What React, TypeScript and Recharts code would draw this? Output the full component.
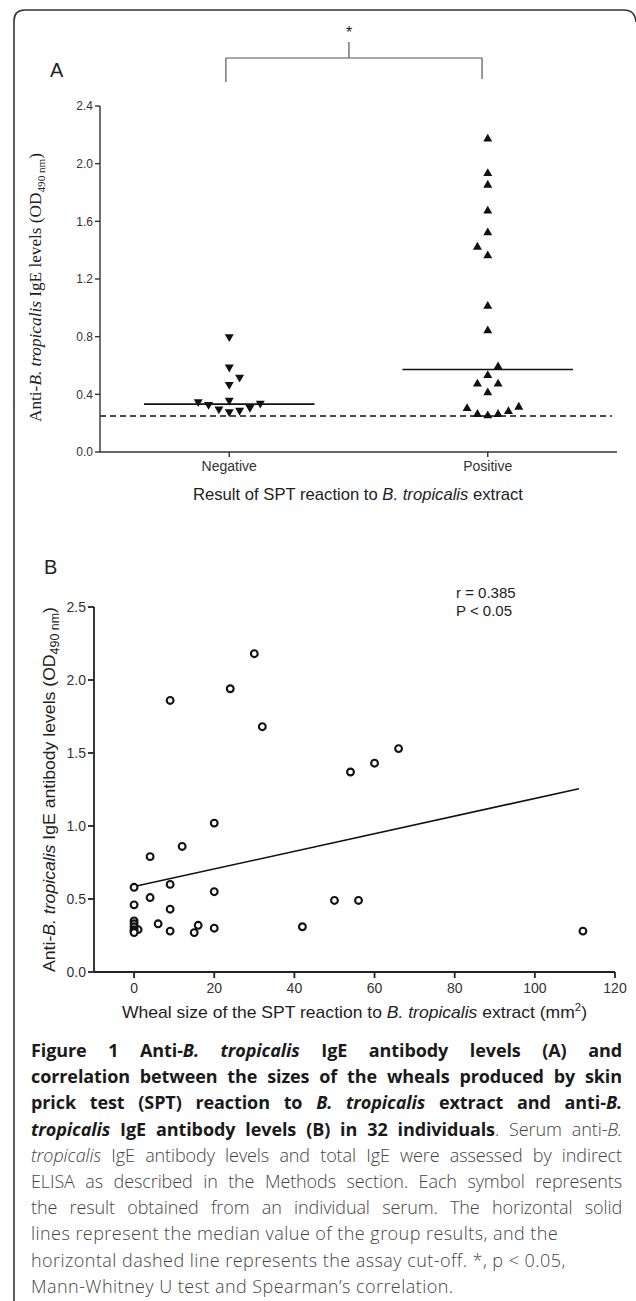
import React from 'react';
import { ScatterChart, Scatter, XAxis, YAxis, ReferenceLine } from 'recharts';

// ---------- Panel A data ----------
const groups = ['Negative', 'Positive'];
const groupCenters = [0.5, 1.5];
const negativeValues = [0.79, 0.58, 0.51, 0.46, 0.34, 0.32, 0.29, 0.35, 0.27, 0.28, 0.3, 0.33];
const negativeSlots = [0, 0, 1, 0, -3, -2, -1, 0, 0, 1, 2, 3];
const positiveValues = [2.18, 1.94, 1.86, 1.68, 1.53, 1.43, 1.37, 1.02, 0.85, 0.6, 0.54, 0.48, 0.48, 0.42, 0.31, 0.27, 0.26, 0.27, 0.29, 0.32];
const positiveSlots = [0, 0, 0, 0, 0, -1, 0, 0, 0, 1, 0, -1, 1, 0, -2, -1, 0, 1, 2, 3];
const medians = [0.332, 0.572];
const cutoff = 0.25;
const yTicksA = [0, 0.4, 0.8, 1.2, 1.6, 2.0, 2.4];

// ---------- Panel B data ----------
const whealSizes = [30, 24, 9, 32, 20, 12, 4, 9, 20, 4, 9, 6, 1, 9, 15, 16, 20, 42, 66, 60, 54, 50, 56, 112, 0, 0, 0, 0, 0, 0, 0, 0];
const antibodyLevels = [2.18, 1.94, 1.86, 1.68, 1.02, 0.86, 0.79, 0.6, 0.55, 0.51, 0.43, 0.33, 0.29, 0.28, 0.27, 0.32, 0.3, 0.31, 1.53, 1.43, 1.37, 0.49, 0.49, 0.28, 0.58, 0.46, 0.35, 0.33, 0.31, 0.29, 0.28, 0.27];
const regressionX = [0, 111];
const regressionY = [0.585, 1.255];
const xTicksB = [0, 20, 40, 60, 80, 100, 120];
const yTicksB = [0, 0.5, 1.0, 1.5, 2.0, 2.5];

const SLOT = 0.04;
const MEDIAN_HALF = 0.33;

const negData = negativeValues.map((v, i) => ({ x: groupCenters[0] + negativeSlots[i] * SLOT, y: v }));
const posData = positiveValues.map((v, i) => ({ x: groupCenters[1] + positiveSlots[i] * SLOT, y: v }));
const bData = whealSizes.map((w, i) => ({ x: w, y: antibodyLevels[i] }));

const TriDown = (p: any) => {
  const { cx, cy } = p;
  return <polygon points={`${cx - 4.5},${cy - 3.8} ${cx + 4.5},${cy - 3.8} ${cx},${cy + 4}`} fill="#111" />;
};
const TriUp = (p: any) => {
  const { cx, cy } = p;
  return <polygon points={`${cx - 4.5},${cy + 3.8} ${cx + 4.5},${cy + 3.8} ${cx},${cy - 4}`} fill="#111" />;
};
const OpenCircle = (p: any) => {
  const { cx, cy } = p;
  return <circle cx={cx} cy={cy} r={3.4} fill="#fff" stroke="#111" strokeWidth={2.1} />;
};

const axA = { stroke: '#333', strokeWidth: 1.4 };
const axB = { stroke: '#222', strokeWidth: 1.8 };

const B = ({ children }: { children: React.ReactNode }) => <b style={{ color: '#1a1a1a', fontWeight: 700 }}>{children}</b>;

const captionLines = [
  { j: true, c: <B>Figure 1 Anti-<i>B. tropicalis</i> IgE antibody levels (A) and</B> },
  { j: true, c: <B>correlation between the sizes of the wheals produced by skin</B> },
  { j: true, c: <B>prick test (SPT) reaction to <i>B. tropicalis</i> extract and anti-<i>B.</i></B> },
  { j: true, c: <><B><i>tropicalis</i> IgE antibody levels (B) in 32 individuals</B>. Serum anti-<i>B.</i></> },
  { j: true, c: <><i>tropicalis</i> IgE antibody levels and total IgE were assessed by indirect</> },
  { j: true, c: <>ELISA as described in the Methods section. Each symbol represents</> },
  { j: true, c: <>the result obtained from an individual serum. The horizontal solid</> },
  { j: false, c: <>lines represent the median value of the group results, and the</> },
  { j: false, c: <>horizontal dashed line represents the assay cut-off. *, p &lt; 0.05,</> },
  { j: false, c: <>Mann-Whitney U test and Spearman’s correlation.</> },
];

export default function App() {
  return (
    <div style={{ position: 'absolute', left: 0, top: 0, width: 636, height: 1301, background: '#fff', overflow: 'hidden' }}>
      {/* Panel A */}
      <div style={{ position: 'absolute', left: 0, top: 0 }}>
        <ScatterChart width={636} height={520} margin={{ top: 106, right: 19, bottom: 38, left: 60 }}>
          <XAxis
            type="number"
            dataKey="x"
            domain={[0, 2]}
            ticks={groupCenters}
            tickFormatter={(v: number) => groups[groupCenters.indexOf(v)] ?? ''}
            height={30}
            axisLine={axA}
            tickLine={axA}
            tickSize={5}
            tickMargin={4}
            tick={{ fontSize: 14, fill: '#333', fontFamily: 'Liberation Sans, Arial, sans-serif' }}
          />
          <YAxis
            type="number"
            dataKey="y"
            domain={[0, 2.4]}
            ticks={yTicksA}
            tickFormatter={(v: number) => v.toFixed(1)}
            width={40}
            axisLine={axA}
            tickLine={axA}
            tickSize={5}
            tickMargin={2}
            tick={{ fontSize: 12, fill: '#333', fontFamily: 'Liberation Sans, Arial, sans-serif' }}
          />
          <ReferenceLine segment={[{ x: 0, y: cutoff }, { x: 1.98, y: cutoff }]} stroke="#111" strokeWidth={1.5} strokeDasharray="6 4" />
          <ReferenceLine segment={[{ x: groupCenters[0] - MEDIAN_HALF, y: medians[0] }, { x: groupCenters[0] + MEDIAN_HALF, y: medians[0] }]} stroke="#111" strokeWidth={1.6} />
          <ReferenceLine segment={[{ x: groupCenters[1] - MEDIAN_HALF, y: medians[1] }, { x: groupCenters[1] + MEDIAN_HALF, y: medians[1] }]} stroke="#111" strokeWidth={1.6} />
          {/* significance bracket */}
          <ReferenceLine ifOverflow="visible" segment={[{ x: 0.487, y: 2.733 }, { x: 1.478, y: 2.733 }]} stroke="#555" strokeWidth={1.2} />
          <ReferenceLine ifOverflow="visible" segment={[{ x: 0.487, y: 2.733 }, { x: 0.487, y: 2.566 }]} stroke="#555" strokeWidth={1.2} />
          <ReferenceLine ifOverflow="visible" segment={[{ x: 1.478, y: 2.733 }, { x: 1.478, y: 2.587 }]} stroke="#555" strokeWidth={1.2} />
          <ReferenceLine ifOverflow="visible" segment={[{ x: 0.963, y: 2.733 }, { x: 0.963, y: 2.844 }]} stroke="#555" strokeWidth={1.2} />
          <Scatter data={negData} shape={TriDown} isAnimationActive={false} />
          <Scatter data={posData} shape={TriUp} isAnimationActive={false} />
        </ScatterChart>
      </div>

      {/* Panel B */}
      <div style={{ position: 'absolute', left: 0, top: 520 }}>
        <ScatterChart width={636} height={540} margin={{ top: 87, right: 21, bottom: 58, left: 54 }}>
          <XAxis
            type="number"
            dataKey="x"
            domain={[-10, 120]}
            ticks={xTicksB}
            height={30}
            axisLine={axB}
            tickLine={axB}
            tickSize={6}
            tickMargin={5}
            tick={{ fontSize: 14, fill: '#333', fontFamily: 'Liberation Sans, Arial, sans-serif' }}
          />
          <YAxis
            type="number"
            dataKey="y"
            domain={[0, 2.5]}
            ticks={yTicksB}
            tickFormatter={(v: number) => v.toFixed(1)}
            width={40}
            axisLine={axB}
            tickLine={axB}
            tickSize={6}
            tickMargin={2}
            tick={{ fontSize: 14, fill: '#333', fontFamily: 'Liberation Sans, Arial, sans-serif' }}
          />
          <ReferenceLine segment={[{ x: regressionX[0], y: regressionY[0] }, { x: regressionX[1], y: regressionY[1] }]} stroke="#111" strokeWidth={1.6} />
          <Scatter data={bData} shape={OpenCircle} isAnimationActive={false} />
        </ScatterChart>
      </div>

      {/* Overlay: frame, letters, titles */}
      <svg width={636} height={1301} style={{ position: 'absolute', left: 0, top: 0, pointerEvents: 'none' }}>
        <path d="M14,1301 L14,21 Q14,10 25,10 L624,10 Q635,10 636,22" fill="none" stroke="#333" strokeWidth={1.6} />
        <text x={349} y={38} fontSize={16} textAnchor="middle" fontFamily="Liberation Sans, Arial, sans-serif" fill="#222">*</text>
        <text x={50} y={77} fontSize={20} fontFamily="Liberation Sans, Arial, sans-serif" fill="#222">A</text>
        <text x={44} y={574} fontSize={20} fontFamily="Liberation Sans, Arial, sans-serif" fill="#222">B</text>

        {/* Panel A y title (serif) */}
        <text
          transform="rotate(-90 41 287.5)"
          x={41}
          y={287.5}
          textAnchor="middle"
          fontSize={17}
          fontFamily="Liberation Serif, Times New Roman, serif"
          fill="#222"
          textLength={269}
          lengthAdjust="spacingAndGlyphs"
        >
          Anti-<tspan fontStyle="italic">B. tropicalis</tspan> IgE levels (OD<tspan fontSize={11} dy={4}>490 nm</tspan><tspan dy={-4}>)</tspan>
        </text>
        {/* Panel A x title */}
        <text x={358} y={500} textAnchor="middle" fontSize={17} fontFamily="Liberation Sans, Arial, sans-serif" fill="#222" textLength={330} lengthAdjust="spacingAndGlyphs">
          Result of SPT reaction to <tspan fontStyle="italic">B. tropicalis</tspan> extract
        </text>

        {/* Panel B y title */}
        <text
          transform="rotate(-90 55 789.5)"
          x={55}
          y={789.5}
          textAnchor="middle"
          fontSize={17}
          fontFamily="Liberation Sans, Arial, sans-serif"
          fill="#222"
          textLength={365}
          lengthAdjust="spacingAndGlyphs"
        >
          Anti-<tspan fontStyle="italic">B. tropicalis</tspan> IgE antibody levels (OD<tspan fontSize={12} dy={4}>490 nm</tspan><tspan dy={-4}>)</tspan>
        </text>
        {/* Panel B x title */}
        <text x={354.5} y={1018} textAnchor="middle" fontSize={17} fontFamily="Liberation Sans, Arial, sans-serif" fill="#222" textLength={465} lengthAdjust="spacingAndGlyphs">
          Wheal size of the SPT reaction to <tspan fontStyle="italic">B. tropicalis</tspan> extract (mm<tspan fontSize={11} dy={-7}>2</tspan><tspan dy={7}>)</tspan>
        </text>
        <text x={456} y={598} fontSize={15} fontFamily="Liberation Sans, Arial, sans-serif" fill="#222">r = 0.385</text>
        <text x={456} y={616} fontSize={15} fontFamily="Liberation Sans, Arial, sans-serif" fill="#222">P &lt; 0.05</text>
      </svg>

      {/* Caption */}
      <div
        style={{
          position: 'absolute',
          left: 31,
          top: 1037,
          width: 591,
          fontFamily: '"Open Sans", sans-serif',
          fontSize: 18,
          lineHeight: '26.2px',
          color: '#444',
          fontWeight: 300,
          letterSpacing: '-0.1px',
        }}
      >
        {captionLines.map((l, i) => (
          <div
            key={i}
            style={{
              whiteSpace: 'nowrap',
              textAlign: l.j ? 'justify' : 'left',
              textAlignLast: l.j ? 'justify' : 'left',
              letterSpacing: l.j ? undefined : '0.45px',
            }}
          >
            {l.c}
          </div>
        ))}
      </div>
    </div>
  );
}
